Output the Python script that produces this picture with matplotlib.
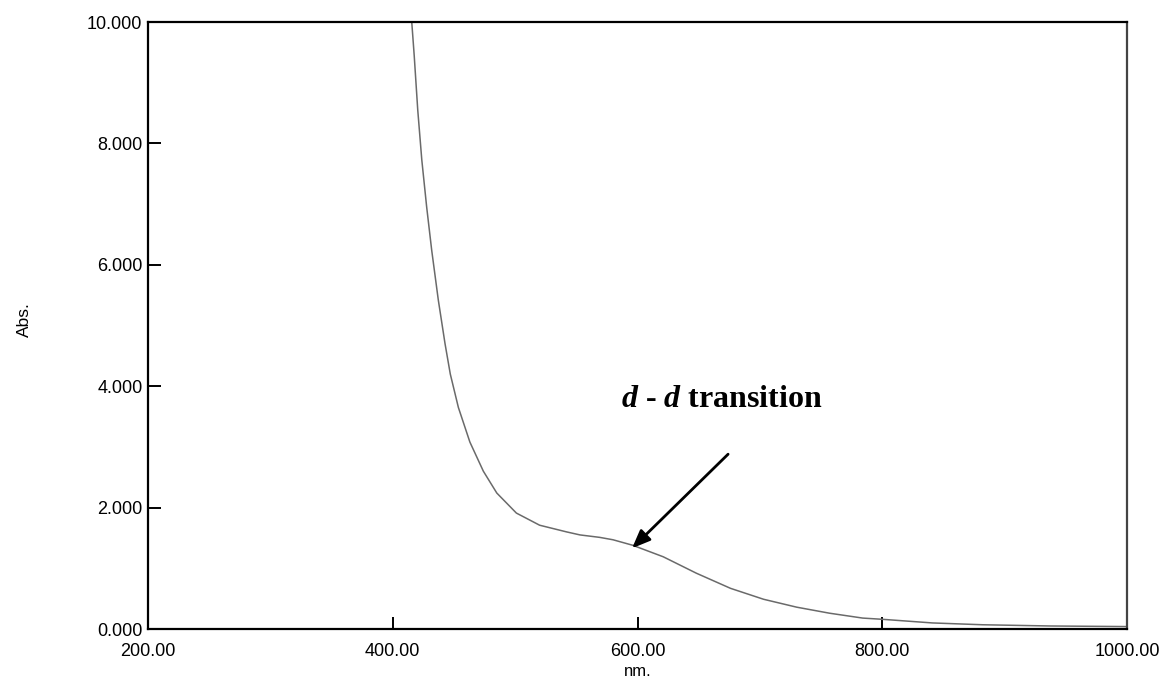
import numpy as np
import matplotlib
matplotlib.use('Agg')
import matplotlib.pyplot as plt
from matplotlib.ticker import FormatStrFormatter

# spectrum (saturated at 10 below ~415 nm)
wavelength_nm = [200, 300, 415.5, 417.5, 420.4, 423.7, 427.7, 431.8, 437.2,
                 442.7, 447, 453.6, 463, 474, 485, 501, 520, 542, 553,
                 569, 580, 596, 621, 648, 676, 703, 730, 757, 784, 800,
                 841, 882, 937, 1000]
absorbance = [10.0, 10.0, 10.0, 9.45, 8.55, 7.73, 6.95, 6.24, 5.42,
              4.70, 4.20, 3.65, 3.08, 2.60, 2.24, 1.91, 1.71, 1.60, 1.55,
              1.51, 1.47, 1.38, 1.19, 0.92, 0.67, 0.49, 0.36, 0.26, 0.18,
              0.16, 0.10, 0.07, 0.05, 0.04]

x_ticks = [200, 400, 600, 800, 1000]
y_ticks = [0, 2, 4, 6, 8, 10]

# annotation: arrow from label to the d-d shoulder
arrow_tip = (595.5, 1.33)
arrow_tail = (674, 2.88)
label_pos = (669, 3.78)

plt.rcParams['mathtext.fontset'] = 'custom'
plt.rcParams['mathtext.it'] = 'Liberation Serif:italic:bold'
plt.rcParams['mathtext.rm'] = 'Liberation Serif:bold'
plt.rcParams['mathtext.bf'] = 'Liberation Serif:bold'

fig = plt.figure(figsize=(11.62, 6.82), dpi=100)
ax = fig.add_axes([0.1274, 0.0777, 0.8425, 0.89])

ax.plot(wavelength_nm, absorbance, color='#6a6a6a', lw=1.1, zorder=2)

ax.set_xlim(200, 1000)
ax.set_ylim(0, 10)
ax.set_xticks(x_ticks)
ax.set_yticks(y_ticks)
ax.xaxis.set_major_formatter(FormatStrFormatter('%.2f'))
ax.yaxis.set_major_formatter(FormatStrFormatter('%.3f'))
ax.tick_params(direction='in', length=9, width=1.4,
               labelsize=13, colors='black')
ax.tick_params(axis='x', pad=10)
ax.tick_params(axis='y', pad=4)
for lab in ax.get_xticklabels() + ax.get_yticklabels():
    lab.set_fontfamily('Liberation Sans')
for s in ax.spines.values():
    s.set_linewidth(1.6)
    s.set_color('black')
ax.spines['right'].set_color('#444444')

ax.set_xlabel('nm.', fontsize=12, family='Liberation Sans')
ax.xaxis.set_label_coords(0.5, -0.058)
ax.set_ylabel('Abs.', fontsize=12.5, family='Liberation Sans')
ax.yaxis.set_label_coords(-0.1185, 0.51)

ax.annotate('', xy=arrow_tip, xytext=arrow_tail,
            arrowprops=dict(arrowstyle='-|>,head_length=1.1,head_width=0.45',
                            color='black', lw=2.0, shrinkA=0, shrinkB=0))
ax.text(label_pos[0], label_pos[1], r'$d$ - $d$ transition',
        ha='center', va='center', fontsize=23,
        family='Liberation Serif', fontweight='bold')

fig.savefig('out.png', dpi=100)
